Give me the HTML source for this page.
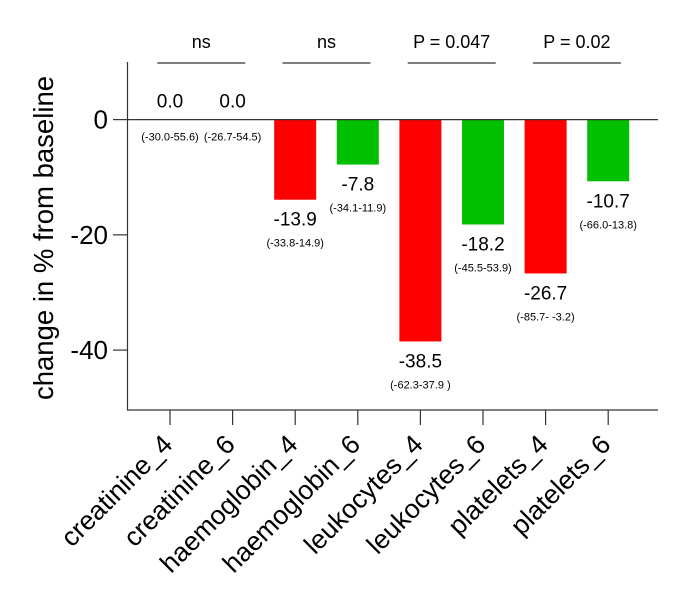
<!DOCTYPE html>
<html><head><meta charset="utf-8"><style>
body{margin:0;background:#fff}
svg{display:block;font-family:"Liberation Sans",Arial,sans-serif}
</style></head><body>
<svg width="685" height="600" id="chart">
<text transform="translate(53,238) rotate(-90)" text-anchor="middle" font-size="27.5">change in % from baseline</text>
</svg>
<script>
const categories=["creatinine_4","creatinine_6","haemoglobin_4","haemoglobin_6","leukocytes_4","leukocytes_6","platelets_4","platelets_6"];
const values=[0.0,0.0,-13.9,-7.8,-38.5,-18.2,-26.7,-10.7];
const ciLabels=["(-30.0-55.6)","(-26.7-54.5)","(-33.8-14.9)","(-34.1-11.9)","(-62.3-37.9 )","(-45.5-53.9)","(-85.7- -3.2)","(-66.0-13.8)"];
const yTicks=[0,-20,-40];
const sigLabels=["ns","ns","P = 0.047","P = 0.02"];
const NS="http://www.w3.org/2000/svg";
const svg=document.getElementById('chart');
const yMax=10,yMin=-50.4,plotTop=62,plotBot=410;
const y=v=>plotTop+(yMax-v)/(yMax-yMin)*(plotBot-plotTop);
const x=i=>170+i*62.6;
function el(t,a){const e=document.createElementNS(NS,t);for(const k in a)e.setAttribute(k,a[k]);svg.appendChild(e);return e;}
let ax=el('line',{x1:127.5,y1:plotTop,x2:127.5,y2:plotBot,stroke:'#333','stroke-width':1.2});


let xa=el('line',{x1:127,y1:plotBot,x2:658,y2:plotBot,stroke:'#333','stroke-width':1.2});


yTicks.forEach(t=>{
 let l=el('line',{x1:113,y1:y(t),x2:127,y2:y(t),stroke:'#333','stroke-width':1.2});
 
 
 let tx=el('text',{x:108,y:y(t)+9,'text-anchor':'end','font-size':26});
 tx.textContent=t;
 
 
});
categories.forEach((c,i)=>{
 const v=values[i];
 if(v<0){
  let r=el('rect',{x:x(i)-21,y:y(0),width:42,height:y(v)-y(0),fill:i%2?'#00c000':'#ff0000'});
  
  
 }
 let vt,ct;
 if(v<0){
  vt=el('text',{x:x(i),y:y(v)+26,'text-anchor':'middle','font-size':19});
  ct=el('text',{x:x(i),y:y(v)+47,'text-anchor':'middle','font-size':11});
 } else {
  vt=el('text',{x:x(i),y:y(0)-12,'text-anchor':'middle','font-size':19});
  ct=el('text',{x:x(i),y:y(0)+21,'text-anchor':'middle','font-size':11});
 }
 vt.textContent=v.toFixed(1);
 
 
 ct.textContent=ciLabels[i];
 
 
 let tk=el('line',{x1:x(i),y1:plotBot,x2:x(i),y2:plotBot+15,stroke:'#333','stroke-width':1.2});
 
 
 let xl=el('text',{transform:`translate(${x(i)+4},${plotBot+36}) rotate(-45)`,'text-anchor':'end','font-size':26.5});
 xl.textContent=c;
 
 
});
let zl=el('line',{x1:127,y1:y(0),x2:658,y2:y(0),stroke:'#333','stroke-width':1.2});


sigLabels.forEach((s,j)=>{
 const cx=(x(2*j)+x(2*j+1))/2;
 let l=el('line',{x1:cx-44,y1:63,x2:cx+44,y2:63,stroke:'#333','stroke-width':1.2});
 
 
 let t=el('text',{x:cx,y:48,'text-anchor':'middle','font-size':18});
 t.textContent=s;
 
 
});
</script>
</body></html>
